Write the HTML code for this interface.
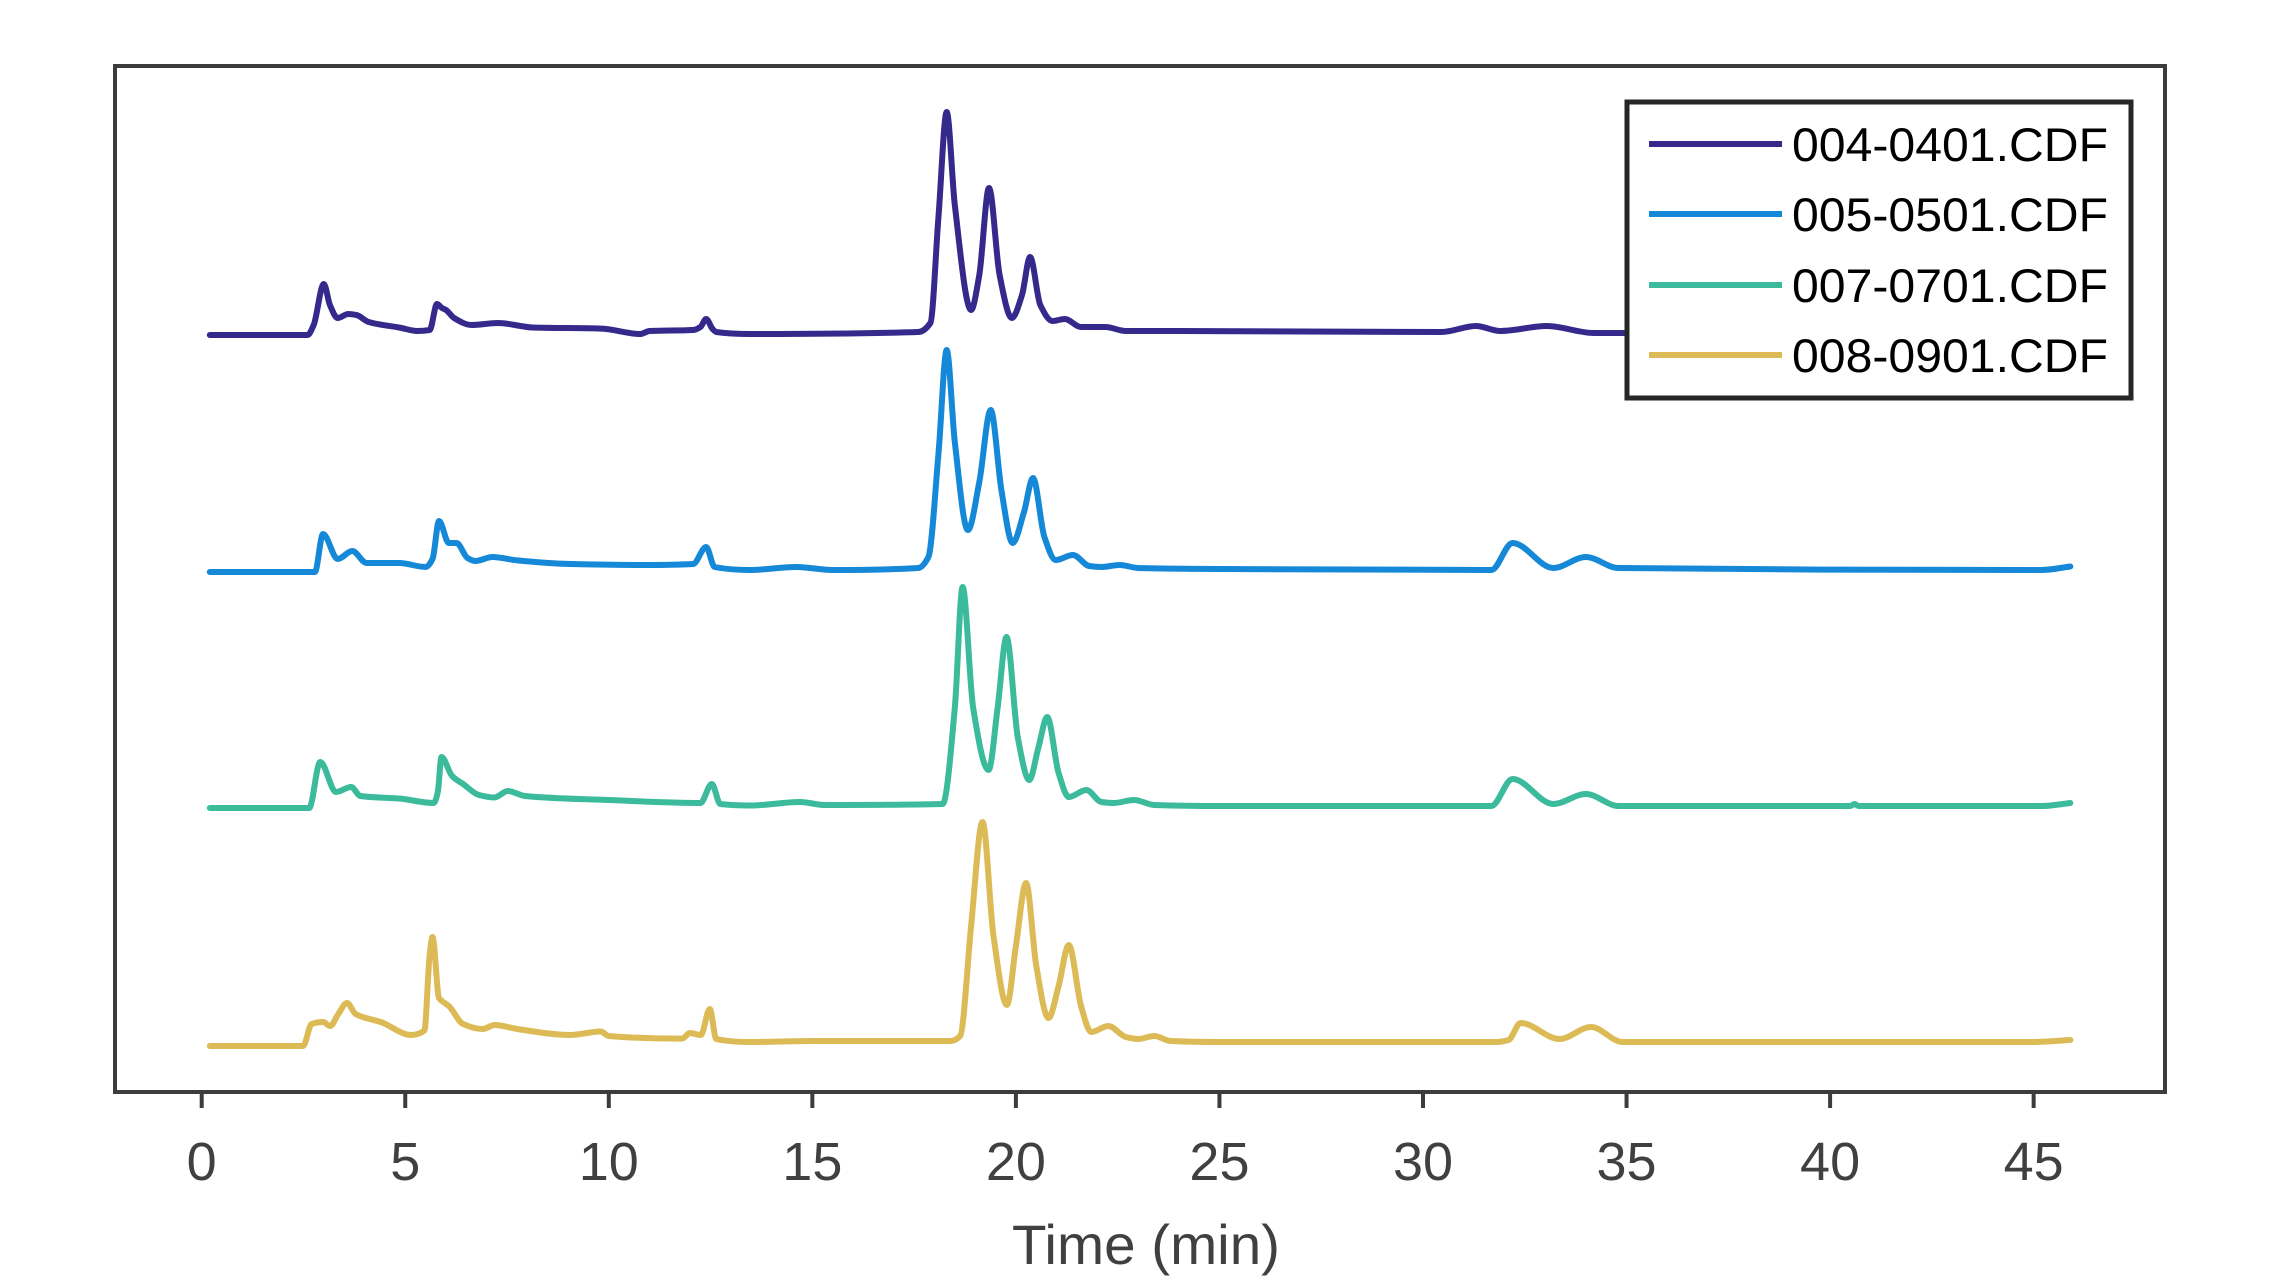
<!DOCTYPE html>
<html><head><meta charset="utf-8"><style>html,body{margin:0;padding:0;background:#fff}svg{display:block}</style></head>
<body>
<svg id="chart" width="2279" height="1283" viewBox="0 0 2279 1283" xmlns="http://www.w3.org/2000/svg" font-family="'Liberation Sans', sans-serif">
<rect x="0" y="0" width="2279" height="1283" fill="#fff"/>
<g id="traces"></g>
<rect x="115" y="66" width="2050" height="1026" fill="none" stroke="#3c3c3c" stroke-width="4"/>
<g id="xaxis"></g>
<text x="1146" y="1264" font-size="56" fill="#404040" text-anchor="middle" textLength="268" lengthAdjust="spacingAndGlyphs">Time (min)</text>
<g>
<rect x="1627" y="102" width="504" height="296" fill="#fff" stroke="#262626" stroke-width="5"/>
<g id="legend-entries"></g>
</g>
</svg>
<script>
const names = ["004-0401.CDF","005-0501.CDF","007-0701.CDF","008-0901.CDF"];
const colors = ["#35298c","#1588d8","#3bba9c","#dcba55"];
const offsets = [758, 521, 285, 47];
const t1 = [0.2,2.6,2.75,3.0,3.15,3.34,3.6,3.8,4.1,4.85,5.3,5.6,5.78,5.9,6.0,6.2,6.63,7.28,8.13,9.82,10.77,11,12.07,12.25,12.39,12.55,12.64,13.47,17.6,17.9,18.1,18.3,18.5,18.9,19.1,19.34,19.6,19.9,20.15,20.35,20.6,20.9,21.2,21.6,22.2,22.7,24,30.45,31.3,31.9,33.04,34.2,45.9];
const v1 = [0,0,10,51,30,17,21,20,13,7.5,4,5,31,27,25,17,10,12,7.5,6.4,1,4,5,8,16,6,3,1,3,12,120,223,130,25,60,147,60,17,40,78,30,14,16,8,8,4,4,3,9,4,9,2,2];
const t2 = [0.2,2.78,2.98,3.34,3.7,4.05,4.85,5.5,5.67,5.83,6.07,6.26,6.53,6.72,7.14,7.75,9.05,10.9,12.07,12.39,12.6,13.47,14.6,15.5,17.6,17.85,18.1,18.3,18.5,18.82,19.1,19.38,19.65,19.92,20.2,20.42,20.7,20.98,21.4,21.8,22.1,22.55,23.0,25,31.68,32.2,33.2,34.0,34.8,45.2,45.9];
const v2 = [0,0,38,13,21,9,9,5,13,51,29,29,14,11,15,11.6,8,7,8,25,5,2,5,2,4,15,120,222,130,42,90,162,80,29,60,94,35,12,17,6,5,7,4,3,2,29,4,15,4,2,5.5];
const t3 = [0.2,2.64,2.91,3.3,3.67,3.9,4.85,5.7,5.8,5.89,6.15,6.42,6.81,7.19,7.52,7.94,10.0,12.25,12.53,12.74,13.47,14.7,15.3,18.2,18.5,18.69,18.95,19.33,19.55,19.77,20.05,20.33,20.55,20.77,21.05,21.3,21.73,22.1,22.4,22.9,23.4,25,31.68,32.2,33.2,34.0,34.8,40.5,40.6,40.7,45.2,45.9];
const v3 = [0,0,46,16,21,12,9.5,5,16,51,32,24,13,10.5,17,12,8,5,24,4,2.5,6,3,4,100,221,100,38,100,171,70,28,60,91,35,11,18,6,5,8,3,2,2,29,4,14,2,2,4,2,2,5];
const t4 = [0.2,2.49,2.7,2.98,3.16,3.34,3.57,3.78,4.4,5.15,5.47,5.6,5.67,5.83,5.97,6.07,6.42,6.9,7.2,7.75,9.05,9.8,10,11.8,11.99,12.26,12.48,12.64,13.47,15,18.4,18.63,18.9,19.18,19.45,19.78,20.0,20.25,20.5,20.8,21.05,21.3,21.6,21.85,22.27,22.7,23.0,23.4,23.8,25,31.8,32.1,32.4,33.35,34.13,34.9,45,45.9];
const v4 = [0,0,22,24,20,31,43,32,24,11,15.5,91,109,48,43,40,22,17,21,17,11,14.5,10,7.4,13,11,37,7,4,5,5,10,120,224,110,41,100,163,80,28,60,101,40,14,20,9,7,10,5,4,4,6,23,7,19,4,4,6];
const xTicks = [0,5,10,15,20,25,30,35,40,45];
const tSeries = [t1,t2,t3,t4], vSeries = [v1,v2,v3,v4];

const NS = "http://www.w3.org/2000/svg";
const X0 = 201.7, PXMIN = 40.71, YB = 1093;
function xScale(t){ return X0 + t * PXMIN; }
function yScale(v){ return YB - v; }

function monotonePath(pts){
  const n = pts.length;
  const dx = [], dy = [], m = [];
  for (let i = 0; i < n-1; i++){ dx.push(pts[i+1][0]-pts[i][0]); dy.push(pts[i+1][1]-pts[i][1]); m.push(dy[i]/dx[i]); }
  const tg = [m[0]];
  for (let i = 1; i < n-1; i++){
    if (m[i-1]*m[i] <= 0) tg.push(0);
    else { const w1 = 2*dx[i]+dx[i-1], w2 = dx[i]+2*dx[i-1]; tg.push((w1+w2)/(w1/m[i-1]+w2/m[i])); }
  }
  tg.push(m[n-2]);
  let d = "M" + pts[0][0].toFixed(1) + "," + pts[0][1].toFixed(1);
  for (let i = 0; i < n-1; i++){
    const h = dx[i]/3;
    d += " C" + (pts[i][0]+h).toFixed(1) + "," + (pts[i][1]+tg[i]*h).toFixed(1) + " " +
         (pts[i+1][0]-h).toFixed(1) + "," + (pts[i+1][1]-tg[i+1]*h).toFixed(1) + " " +
         pts[i+1][0].toFixed(1) + "," + pts[i+1][1].toFixed(1);
  }
  return d;
}

const traces = document.getElementById("traces");
for (let s = 0; s < 4; s++){
  const pts = tSeries[s].map((t,i) => [xScale(t), yScale(offsets[s] + vSeries[s][i])]);
  const p = document.createElementNS(NS, "path");
  p.setAttribute("d", monotonePath(pts));
  p.setAttribute("fill", "none");
  p.setAttribute("stroke", colors[s]);
  p.setAttribute("stroke-width", "6");
  p.setAttribute("stroke-linejoin", "round");
  p.setAttribute("stroke-linecap", "round");
  
  
  traces.appendChild(p);
}

const xaxis = document.getElementById("xaxis");
xTicks.forEach(v => {
  const x = xScale(v);
  const l = document.createElementNS(NS, "line");
  l.setAttribute("x1", x); l.setAttribute("x2", x);
  l.setAttribute("y1", 1092); l.setAttribute("y2", 1108);
  l.setAttribute("stroke", "#3c3c3c"); l.setAttribute("stroke-width", "4");
  
  
  xaxis.appendChild(l);
  const tx = document.createElementNS(NS, "text");
  tx.setAttribute("x", x); tx.setAttribute("y", 1180);
  tx.setAttribute("font-size", "54"); tx.setAttribute("fill", "#404040");
  tx.setAttribute("text-anchor", "middle");
  tx.textContent = String(v);
  
  
  xaxis.appendChild(tx);
});

const lg = document.getElementById("legend-entries");
const ly = [144, 214, 285, 355];
names.forEach((n,i) => {
  const l = document.createElementNS(NS, "line");
  l.setAttribute("x1", 1649); l.setAttribute("x2", 1782);
  l.setAttribute("y1", ly[i]); l.setAttribute("y2", ly[i]);
  l.setAttribute("stroke", colors[i]); l.setAttribute("stroke-width", "6");
  
  
  lg.appendChild(l);
  const tx = document.createElementNS(NS, "text");
  tx.setAttribute("x", 1792); tx.setAttribute("y", ly[i] + 17);
  tx.setAttribute("font-size", "47"); tx.setAttribute("fill", "#000");
  tx.setAttribute("textLength", "316"); tx.setAttribute("lengthAdjust", "spacingAndGlyphs");
  tx.textContent = n;
  
  
  lg.appendChild(tx);
});
</script>
</body></html>
